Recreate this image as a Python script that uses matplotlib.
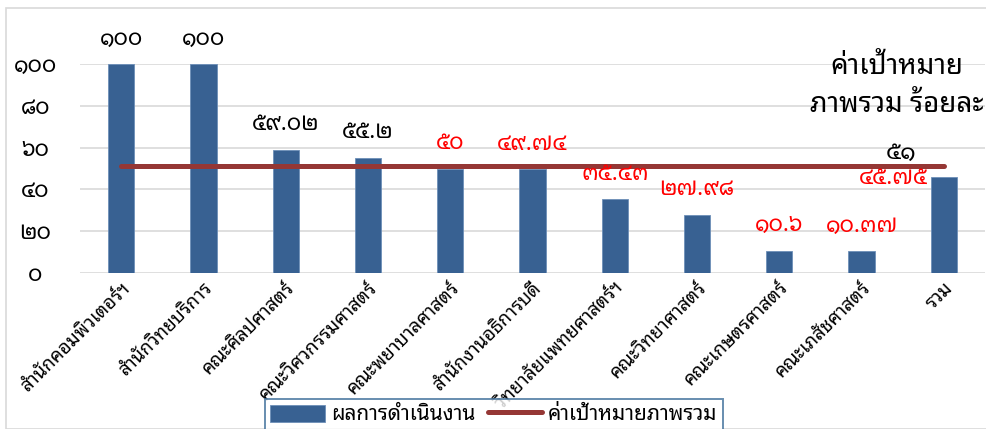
import matplotlib
matplotlib.use("Agg")
import matplotlib.pyplot as plt
from matplotlib import font_manager
from matplotlib.ft2font import FT2Font
from matplotlib.patches import Rectangle

# ---------------- data ----------------
categories = ["สำนักคอมพิวเตอร์ฯ", "สำนักวิทยบริการ", "คณะศิลปศาสตร์", "คณะวิศวกรรมศาสตร์",
              "คณะพยาบาลศาสตร์", "สำนักงานอธิการบดี", "วิทยาลัยแพทยศาสตร์ฯ", "คณะวิทยาศาสตร์",
              "คณะเกษตรศาสตร์", "คณะเภสัชศาสตร์", "รวม"]
performance = [100, 100, 59.02, 55.2, 50, 49.74, 35.43, 27.98, 10.6, 10.37, 45.75]
target = [51] * 11
value_labels = ["๑๐๐", "๑๐๐", "๕๙.๐๒", "๕๕.๒", "๕๐", "๔๙.๗๔", "๓๕.๔๓", "๒๗.๙๘", "๑๐.๖", "๑๐.๓๗", "๔๕.๗๕"]
label_colors = ["black", "black", "black", "black", "red", "red", "red", "red", "red", "red", "red"]
yticks = [0, 20, 40, 60, 80, 100]
ytick_labels = ["๐", "๒๐", "๔๐", "๖๐", "๘๐", "๑๐๐"]
series_names = ["ผลการดำเนินงาน", "ค่าเป้าหมายภาพรวม"]
target_title = "ค่าเป้าหมาย\nภาพรวม ร้อยละ"
target_label = "๕๑"

# ---------------- font with Thai glyphs ----------------
thai_font = None
cands = []
for f in font_manager.fontManager.ttflist:
    try:
        cm = FT2Font(f.fname).get_charmap()
    except Exception:
        continue
    if 0x0E01 in cm and 0x0E51 in cm and 0x0E33 in cm:
        cands.append(f.name)
pref = ["Tahoma", "Leelawadee UI", "Noto Sans Thai Looped", "Noto Sans Thai", "Sarabun", "Loma",
        "Garuda", "Waree", "DejaVu Sans"]
for p in pref:
    if p in cands:
        thai_font = p
        break
if thai_font is None and cands:
    thai_font = cands[0]
families = [thai_font, "DejaVu Sans"] if thai_font else ["DejaVu Sans"]
plt.rcParams["font.family"] = families

W, H = 987, 429
fig = plt.figure(figsize=(W / 100, H / 100), dpi=100)
fig.patches.append(Rectangle((6 / W, 0), 1, 1 - 8 / H, transform=fig.transFigure,
                             fill=False, edgecolor="#d9d9d9", linewidth=1.2))

ax = fig.add_axes([80 / W, 1 - 273 / H, 905 / W, 209 / H])
x = list(range(len(categories)))
bars = ax.bar(x, performance, width=0.32, color="#386192", edgecolor="#6d8fb8", linewidth=0.6,
              label=series_names[0], zorder=2)
line, = ax.plot(x, target, color="#953735", linewidth=3.6, solid_capstyle="round",
                label=series_names[1], zorder=3)

ax.set_xlim(-0.5, len(categories) - 0.5)
ax.set_ylim(0, 100)
ax.set_yticks(yticks)
ax.set_yticklabels(ytick_labels, fontsize=16, fontweight="bold")
ax.set_xticks(x)
ax.set_xticklabels(categories, rotation=45, ha="right", rotation_mode="anchor", fontsize=13.5)
ax.tick_params(axis="x", length=0, pad=4)
ax.tick_params(axis="y", length=0, pad=32)
for lbl in ax.get_yticklabels():
    lbl.set_horizontalalignment("center")
ax.grid(axis="y", color="#d9d9d9", linewidth=1.2, zorder=0)
for s in ax.spines.values():
    s.set_visible(False)

for i, (v, t, c) in enumerate(zip(performance, value_labels, label_colors)):
    if i == len(performance) - 1:
        ax.annotate(t, (i, v), xytext=(-36, -1), textcoords="offset points", ha="center",
                    va="center", fontsize=16, fontweight="bold", color=c)
    else:
        ax.annotate(t, (i, v), xytext=(0, 18), textcoords="offset points", ha="center",
                    va="center", fontsize=16, fontweight="bold", color=c)

fig.text(897 / W, 1 - 86 / H, target_title, ha="center", va="center", fontsize=20,
         linespacing=1.45)
ax.annotate(target_label, (10, 51), xytext=(-31, 10), textcoords="offset points", ha="center",
            va="center", fontsize=17, fontweight="bold", color="black")

leg = fig.legend([bars, line], series_names, loc="lower center",
                 bbox_to_anchor=(494 / W, -12 / H), ncol=2, fontsize=15,
                 frameon=True, fancybox=False, edgecolor="#41719c", handlelength=2.6,
                 handleheight=0.9, borderpad=0.25, columnspacing=0.6, handletextpad=0.3)
leg.get_frame().set_linewidth(1.4)

fig.savefig("out.png", dpi=100)
